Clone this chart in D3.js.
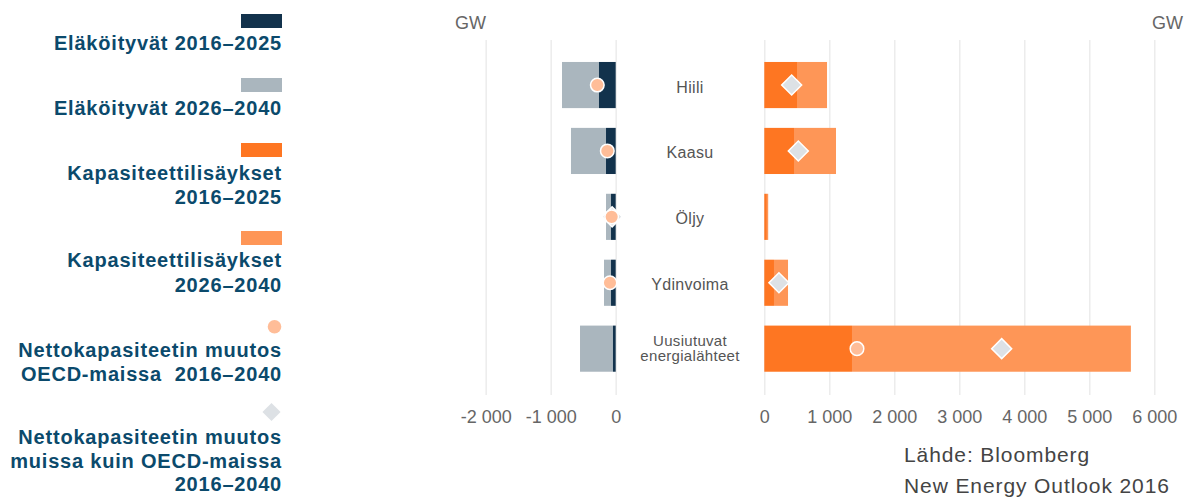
<!DOCTYPE html>
<html>
<head>
<meta charset="utf-8">
<script src="https://cdn.jsdelivr.net/npm/d3@7"></script>
<style>
  html, body { margin: 0; padding: 0; background: #fff; }
  svg { display: block; }
</style>
</head>
<body>
<svg id="chart" width="1184" height="497"></svg>
<script>
// ---- data ----
const categories = ["Hiili", "Kaasu", "Öljy", "Ydinvoima", "Uusiutuvat energialähteet"];
const categoryLines = [["Hiili"], ["Kaasu"], ["Öljy"], ["Ydinvoima"], ["Uusiutuvat", "energialähteet"]];
const retire2016_2025 = [-257, -149, -72, -72, -42];
const retire2026_2040 = [-569, -539, -77, -108, -507];
const add2016_2025 = [503, 457, 40, 149, 1349];
const add2026_2040 = [462, 646, 20, 216, 4291];
const netOECD = [-283, -129, -62, -88, 1426];
const netNonOECD = [421, 523, -55, 225, 3652];
const leftTicks = [-2000, -1000, 0];
const rightTicks = [0, 1000, 2000, 3000, 4000, 5000, 6000];
const legendItems = [
  { type: "rect", color: "#12324c", lines: ["Eläköityvät 2016–2025"] },
  { type: "rect", color: "#aab6be", lines: ["Eläköityvät 2026–2040"] },
  { type: "rect", color: "#fe7622", lines: ["Kapasiteettilisäykset", "2016–2025"] },
  { type: "rect", color: "#fe9657", lines: ["Kapasiteettilisäykset", "2026–2040"] },
  { type: "circle", color: "#ffbd98", lines: ["Nettokapasiteetin muutos", "OECD-maissa  2016–2040"] },
  { type: "diamond", color: "#dde1e5", lines: ["Nettokapasiteetin muutos", "muissa kuin OECD-maissa", "2016–2040"] }
];
const sourceLines = ["Lähde: Bloomberg", "New Energy Outlook 2016"];

// ---- colours ----
const C = {
  retA: "#12324c", retB: "#aab6be", addA: "#fe7622", addB: "#fe9657",
  circ: "#ffbd98", diam: "#dde1e5", grid: "#ececec", tick: "#666", label: "#555",
  legend: "#0b4a6c", source: "#444"
};

const svg = d3.select("#chart");
const font = "'Liberation Sans', Arial, Helvetica, sans-serif";

const gridTop = 40, gridBottom = 395;
const xL = d3.scaleLinear().domain([-2000, 0]).range([485.7, 615.7]);
const xR = d3.scaleLinear().domain([0, 6000]).range([764.3, 1154.3]);
const y = d3.scaleBand().domain(categories).range([42.2, 391.5]).paddingInner(0.3).paddingOuter(0.3);

const loc = d3.formatLocale({ decimal: ",", thousands: "\u00a0", grouping: [3], currency: ["", " €"], minus: "-" });
const fmt = loc.format(",d");

function drawAxis(scale, ticks) {
  const g = svg.append("g").attr("transform", `translate(0,${gridBottom})`)
    .call(d3.axisBottom(scale).tickValues(ticks).tickFormat(fmt)
      .tickSize(-(gridBottom - gridTop)).tickPadding(15));
  g.select(".domain").remove();
  g.selectAll(".tick line").attr("stroke", C.grid).attr("stroke-width", 1.5);
  g.selectAll(".tick text").attr("fill", C.tick).style("font-family", font).style("font-size", "18px");
}
drawAxis(xL, leftTicks);
drawAxis(xR, rightTicks);

// GW labels
svg.append("text").attr("x", 455).attr("y", 29).text("GW")
  .attr("fill", C.tick).style("font-family", font).style("font-size", "18px");
svg.append("text").attr("x", 1183).attr("y", 29).attr("text-anchor", "end").text("GW")
  .attr("fill", C.tick).style("font-family", font).style("font-size", "18px");

const rows = categories.map((c, i) => ({
  c, i, r1: retire2016_2025[i], r2: retire2026_2040[i],
  a1: add2016_2025[i], a2: add2026_2040[i], n1: netOECD[i], n2: netNonOECD[i]
}));

const bw = y.bandwidth();
const bars = svg.append("g");
// retirements (left)
bars.selectAll(".rb").data(rows).join("rect")
  .attr("x", d => xL(d.r1 + d.r2)).attr("width", d => xL(d.r1) - xL(d.r1 + d.r2))
  .attr("y", d => y(d.c)).attr("height", bw).attr("fill", C.retB);
bars.selectAll(".ra").data(rows).join("rect")
  .attr("x", d => xL(d.r1)).attr("width", d => xL(0) - xL(d.r1))
  .attr("y", d => y(d.c)).attr("height", bw).attr("fill", C.retA);
// additions (right)
bars.selectAll(".aa").data(rows).join("rect")
  .attr("x", d => xR(0)).attr("width", d => xR(d.a1) - xR(0))
  .attr("y", d => y(d.c)).attr("height", bw).attr("fill", C.addA);
bars.selectAll(".ab").data(rows).join("rect")
  .attr("x", d => xR(d.a1)).attr("width", d => xR(d.a1 + d.a2) - xR(d.a1))
  .attr("y", d => y(d.c)).attr("height", bw).attr("fill", C.addB);

const px = v => v < 0 ? xL(v) : xR(v);
const diamond = d3.symbol().type(d3.symbolSquare).size(200);
// non-OECD diamonds
svg.append("g").selectAll("path").data(rows).join("path")
  .attr("d", diamond)
  .attr("transform", d => `translate(${px(d.n2)},${y(d.c) + bw / 2}) rotate(45)`)
  .attr("fill", C.diam).attr("stroke", "#fff").attr("stroke-width", 1.5);
// OECD circles
svg.append("g").selectAll("circle").data(rows).join("circle")
  .attr("cx", d => px(d.n1)).attr("cy", d => y(d.c) + bw / 2).attr("r", 6.8)
  .attr("fill", C.circ).attr("stroke", "#fff").attr("stroke-width", 1.5);

// category labels
const lab = svg.append("g").selectAll("text").data(rows).join("text")
  .attr("text-anchor", "middle").attr("fill", C.label)
  .style("font-family", font).style("letter-spacing", "0.3px");
lab.each(function(d) {
  const lines = categoryLines[d.i];
  const cy = y(d.c) + bw / 2;
  const t = d3.select(this);
  if (lines.length === 1) {
    t.style("font-size", "16px");
    t.append("tspan").attr("x", 690).attr("y", cy + 7.5).text(lines[0]);
  } else {
    t.style("font-size", "15px");
    t.append("tspan").attr("x", 690).attr("y", cy - 3).text(lines[0]);
    t.append("tspan").attr("x", 690).attr("y", cy + 12.5).text(lines[1]);
  }
});

// legend
const legTops = [14, 78, 143, 231, 326.7, 412];
const legBase = [[50], [115], [180, 203.5], [267, 292], [357, 380.5], [444, 467.5, 491]];
const lg = svg.append("g");
legendItems.forEach((it, i) => {
  if (it.type === "rect") {
    lg.append("rect").attr("x", 241).attr("y", legTops[i]).attr("width", 41).attr("height", 14).attr("fill", it.color);
  } else if (it.type === "circle") {
    lg.append("circle").attr("cx", 274.5).attr("cy", legTops[i]).attr("r", 6.8).attr("fill", it.color);
  } else {
    lg.append("path").attr("d", d3.symbol().type(d3.symbolSquare).size(165)())
      .attr("transform", `translate(271.5,${legTops[i]}) rotate(45)`).attr("fill", it.color);
  }
  it.lines.forEach((ln, j) => {
    lg.append("text").attr("x", 282).attr("y", legBase[i][j]).attr("text-anchor", "end")
      .attr("fill", C.legend).style("font-family", font).style("font-size", "20px")
      .style("font-weight", "bold").style("letter-spacing", "0.8px").style("white-space", "pre").text(ln);
  });
});

// source
sourceLines.forEach((s, j) => {
  svg.append("text").attr("x", 904).attr("y", 462 + j * 31).text(s)
    .attr("fill", C.source).style("font-family", font).style("font-size", "21px").style("letter-spacing", "0.9px");
});
</script>
</body>
</html>
